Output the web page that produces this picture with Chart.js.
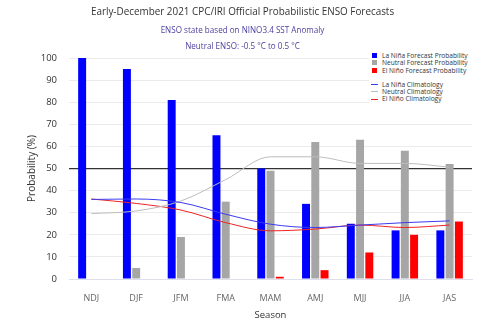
<!DOCTYPE html>
<html>
<head>
<meta charset="utf-8">
<script src="https://cdn.jsdelivr.net/npm/chart.js@4.4.0/dist/chart.umd.min.js"></script>
<style>
  body { margin: 0; background: #fff; font-family: "Open Sans", sans-serif; }
  #wrap { position: relative; width: 485px; height: 321px; }
  #c { position: absolute; left: 0; top: 0; }
  .ttl { position: absolute; left: 0; width: 485px; text-align: center; white-space: nowrap; }
  #t1 { top: 4px; font-size: 9.9px; color: #333; }
  #t2 { top: 24px; font-size: 8.1px; color: #4b3f9e; }
  #t3 { top: 40px; font-size: 8.1px; color: #4b3f9e; }
  #legend { position: absolute; left: 369px; top: 50px; background: #fff; padding: 2px 4px 2px 3px;
            font-size: 6.6px; color: #333; line-height: 7.3px; }
  #legend .row { display: flex; align-items: center; white-space: nowrap; }
  #legend .sq { width: 5px; height: 5px; margin-right: 5px; }
  #legend .ln { width: 7px; height: 1px; margin-right: 4px; margin-left: -1px; }
  #legend .gap { height: 7px; }
</style>
</head>
<body>
<div id="wrap">
  <canvas id="c" width="485" height="321"></canvas>
  <div class="ttl" id="t1">Early-December 2021 CPC/IRI Official Probabilistic ENSO Forecasts</div>
  <div class="ttl" id="t2">ENSO state based on NINO3.4 SST Anomaly</div>
  <div class="ttl" id="t3">Neutral ENSO: -0.5 °C to 0.5 °C</div>
  <div id="legend"></div>
</div>
<script>
var seasons = ['NDJ', 'DJF', 'JFM', 'FMA', 'MAM', 'AMJ', 'MJJ', 'JJA', 'JAS'];

var laNina  = [100, 95, 81, 65, 50, 34, 25, 22, 22];
var neutral = [0, 5, 19, 35, 49, 62, 63, 58, 52];
var elNino  = [0, 0, 0, 0, 1, 4, 12, 20, 26];

var laNinaClim  = [36, 36.2, 34.6, 29.3, 24.8, 23.3, 24.4, 25.5, 26.3];
var neutralClim = [29.6, 30.8, 35.3, 45, 55.3, 55.3, 52.3, 52.3, 50.6];
var elNinoClim  = [36.2, 34.2, 31.2, 25.5, 21.8, 22.6, 24.4, 23.3, 24.4];

var yTicks = [0, 10, 20, 30, 40, 50, 60, 70, 80, 90, 100];

var barOpts = { categoryPercentage: 0.62, barPercentage: 0.86, order: 2 };
var lineOpts = { type: 'line', borderWidth: 1, pointRadius: 0, cubicInterpolationMode: 'monotone', fill: false, order: 1 };

var datasets = [
  Object.assign({ label: 'La Niña Forecast Probability', data: laNina, backgroundColor: '#0000ff' }, barOpts),
  Object.assign({ label: 'Neutral Forecast Probability', data: neutral, backgroundColor: '#a6a6a6' }, barOpts),
  Object.assign({ label: 'El Niño Forecast Probability', data: elNino, backgroundColor: '#ff0000' }, barOpts),
  Object.assign({ label: 'La Niña Climatology', data: laNinaClim, borderColor: '#3b3bf0' }, lineOpts),
  Object.assign({ label: 'Neutral Climatology', data: neutralClim, borderColor: '#bdbdbd' }, lineOpts),
  Object.assign({ label: 'El Niño Climatology', data: elNinoClim, borderColor: '#ee2222' }, lineOpts)
];

// html legend, two groups
var lg = document.getElementById('legend');
datasets.forEach(function (ds, i) {
  if (i === 3) { var g = document.createElement('div'); g.className = 'gap'; lg.appendChild(g); }
  var row = document.createElement('div'); row.className = 'row';
  var mk = document.createElement('span');
  mk.className = ds.type === 'line' ? 'ln' : 'sq';
  mk.style.background = ds.type === 'line' ? ds.borderColor : ds.backgroundColor;
  row.appendChild(mk);
  row.appendChild(document.createTextNode(ds.label));
  lg.appendChild(row);
});

new Chart(document.getElementById('c'), {
  type: 'bar',
  data: { labels: seasons, datasets: datasets },
  options: {
    responsive: false,
    animation: false,
    devicePixelRatio: 1,
    layout: { padding: { left: 22, top: 58, right: 13, bottom: 0 } },
    plugins: { legend: { display: false }, tooltip: { enabled: false } },
    scales: {
      x: {
        grid: { display: false },
        border: { display: true, color: '#dde0ea' },
        ticks: { color: '#666', font: { family: 'Open Sans', size: 9 }, padding: 6 },
        title: { display: true, text: 'Season', color: '#333', font: { family: 'Open Sans', size: 9.5 }, padding: { top: 4, bottom: 0 } },
        afterFit: function (s) { s.height = 42; }
      },
      y: {
        min: 0, max: 100,
        afterBuildTicks: function (s) { s.ticks = yTicks.map(function (v) { return { value: v }; }); },
        grid: {
          drawTicks: false,
          color: function (c) { return c.tick.value === 50 ? '#333' : '#ebebeb'; },
          lineWidth: function (c) { return c.tick.value === 50 ? 1.2 : 1; }
        },
        border: { display: false },
        ticks: { color: '#333', font: { family: 'Open Sans', size: 9.5 }, padding: 12 },
        title: { display: true, text: 'Probability (%)', color: '#333', font: { family: 'Open Sans', size: 10 }, padding: { bottom: 4 } },
        afterFit: function (s) { s.width = 47; }
      }
    }
  }
});
</script>
</body>
</html>
